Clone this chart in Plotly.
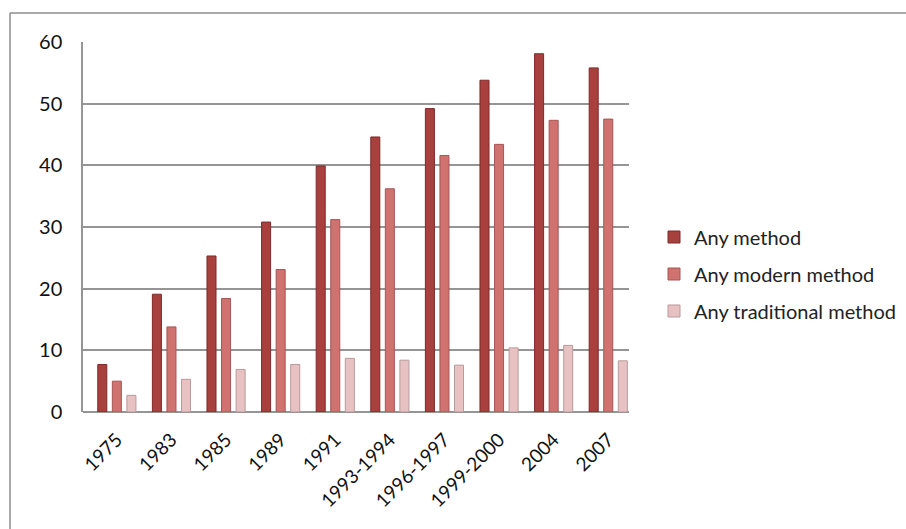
import plotly.graph_objects as go

# Contraceptive prevalence by survey round (%)
rounds = ["1975", "1983", "1985", "1989", "1991", "1993-1994",
          "1996-1997", "1999-2000", "2004", "2007"]
any_method = [7.7, 19.1, 25.3, 30.8, 39.9, 44.6, 49.2, 53.8, 58.1, 55.8]
any_modern = [5.0, 13.8, 18.4, 23.1, 31.2, 36.2, 41.6, 43.4, 47.3, 47.5]
any_traditional = [2.7, 5.3, 6.9, 7.7, 8.7, 8.4, 7.6, 10.4, 10.8, 8.3]

series_names = ["Any method", "Any modern method", "Any traditional method"]
fill_colors = ["#A8403E", "#CF7270", "#E8C2C2"]
edge_colors = ["#7E2A29", "#A65655", "#B9999A"]

W, H = 906, 529
ML, MR, MT, MB = 83, 277, 42, 117
FONT = "Lato"

fig = go.Figure()
for name, vals, fc, ec in zip(series_names,
                              [any_method, any_modern, any_traditional],
                              fill_colors, edge_colors):
    fig.add_trace(go.Bar(
        x=rounds, y=vals, name=name, legendgroup=name,
        marker=dict(color=fc, line=dict(color=ec, width=1)),
    ))

pw = W - ML - MR
ph = H - MT - MB


def px_x(p):
    return (p - ML) / pw


def px_y(p):
    return (H - MB - p) / ph


# outer chart frame (left and top edges)
fig.add_shape(type="line", xref="paper", yref="paper",
              x0=px_x(10), x1=px_x(10), y0=px_y(13), y1=px_y(H + 5),
              line=dict(color="#8C8C8C", width=1.5))
fig.add_shape(type="line", xref="paper", yref="paper",
              x0=px_x(10), x1=px_x(W + 5), y0=px_y(13), y1=px_y(13),
              line=dict(color="#8C8C8C", width=1.5))

fig.update_layout(
    width=W, height=H,
    margin=dict(l=ML, r=MR, t=MT, b=MB, autoexpand=False),
    paper_bgcolor="white", plot_bgcolor="white",
    barmode="group", bargap=0.20, bargroupgap=0.38,
    font=dict(family=FONT, size=17, color="#111111"),
    xaxis=dict(
        type="category", range=[-0.62, 9.38],
        tickangle=-45, ticks="", showgrid=False,
        showline=False, ticklabelstandoff=12,
        tickfont=dict(size=19),
    ),
    yaxis=dict(
        range=[0, 60], dtick=10, showgrid=True,
        gridcolor="#959595", gridwidth=1.5,
        zeroline=True, zerolinecolor="#959595", zerolinewidth=2,
        showline=True, linecolor="#959595", linewidth=1.5,
        ticks="", ticklabelstandoff=15,
        tickfont=dict(size=20),
    ),
    legend=dict(
        x=px_x(654), xanchor="left",
        y=px_y(274), yanchor="middle",
        font=dict(size=20, color="#222222"),
        tracegroupgap=8, itemwidth=30,
        bgcolor="rgba(0,0,0,0)",
    ),
    showlegend=True,
)

fig.write_html("out.html")
